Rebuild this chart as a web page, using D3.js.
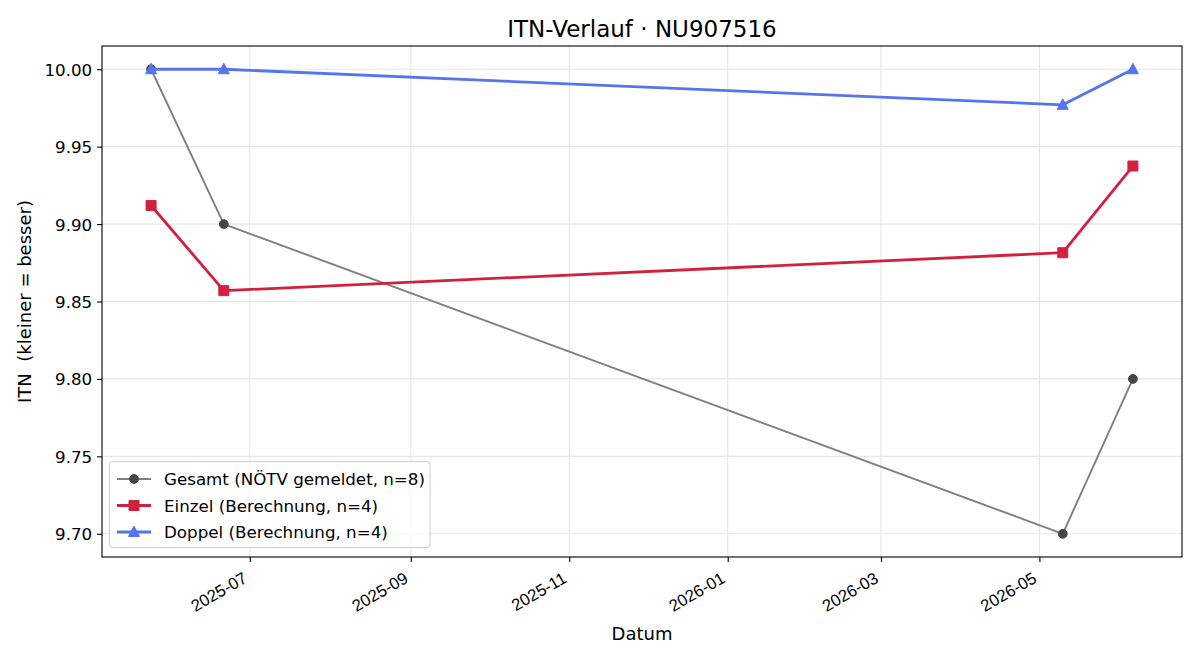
<!DOCTYPE html>
<html>
<head>
<meta charset="utf-8">
<script src="https://cdn.jsdelivr.net/npm/d3@7"></script>
<style>
  html, body { margin: 0; padding: 0; background: #fff; }
  svg { display: block; font-family: "DejaVu Sans", sans-serif; }
</style>
</head>
<body>
<svg id="chart" width="1200" height="660"></svg>
<script>
// ---- data ----
const titleText = "ITN-Verlauf · NU907516";
const xLabel = "Datum";
const yLabel = "ITN  (kleiner = besser)";

const gesamtDates = ["2025-05-24", "2025-06-21", "2026-05-10", "2026-06-06"];
const gesamtValues = [10.00, 9.90, 9.70, 9.80];

const einzelDates = ["2025-05-24", "2025-06-21", "2026-05-10", "2026-06-06"];
const einzelValues = [9.912, 9.857, 9.8815, 9.9375];

const doppelDates = ["2025-05-24", "2025-06-21", "2026-05-10", "2026-06-06"];
const doppelValues = [10.00, 10.00, 9.977, 10.00];

const yTicks = [9.70, 9.75, 9.80, 9.85, 9.90, 9.95, 10.00];

const seriesNames = ["Gesamt (NÖTV gemeldet, n=8)", "Einzel (Berechnung, n=4)", "Doppel (Berechnung, n=4)"];

// ---- build ----
const parse = d3.utcParse("%Y-%m-%d");
const toPoints = (dates, vals) => dates.map((d, i) => ({ date: parse(d), value: vals[i] }));
const series = [
  { name: seriesNames[0], pts: toPoints(gesamtDates, gesamtValues), line: "#7f7f7f", lw: 1.9, marker: "circle", mfill: "#454545", msize: 4.4 },
  { name: seriesNames[1], pts: toPoints(einzelDates, einzelValues), line: "#d2213f", lw: 2.8, marker: "square", mfill: "#d2213f", msize: 10 },
  { name: seriesNames[2], pts: toPoints(doppelDates, doppelValues), line: "#5575f0", lw: 2.8, marker: "triangle", mfill: "#5575f0", msize: 10 }
];

const TICK_FS = "16.7px", LEG_FS = "16.7px", LAB_FS = "18px", TITLE_FS = "23px";

const svg = d3.select("#chart");
const L = 102, R = 1182, T = 46, B = 557;

const allPts = series.flatMap(s => s.pts);
const xExt = d3.extent(allPts, d => d.date);
const xSpan = xExt[1] - xExt[0];
const x = d3.scaleUtc()
  .domain([new Date(+xExt[0] - 0.05 * xSpan), new Date(+xExt[1] + 0.05 * xSpan)])
  .range([L, R]);
const yExt = d3.extent(allPts, d => d.value);
const ySpan = yExt[1] - yExt[0];
const y = d3.scaleLinear()
  .domain([yExt[0] - 0.05 * ySpan, yExt[1] + 0.05 * ySpan])
  .range([B, T]);

const xTicks = x.ticks(d3.utcMonth.every(2));
const fmtX = d3.utcFormat("%Y-%m");

// grid
const grid = svg.append("g");
grid.selectAll(".gx").data(xTicks).join("line")
  .attr("x1", d => x(d)).attr("x2", d => x(d)).attr("y1", T).attr("y2", B)
  .attr("stroke", "#e6e6e6").attr("stroke-width", 1.1);
grid.selectAll(".gy").data(yTicks).join("line")
  .attr("x1", L).attr("x2", R).attr("y1", d => y(d)).attr("y2", d => y(d))
  .attr("stroke", "#e6e6e6").attr("stroke-width", 1.1);

// axes
const xAxis = svg.append("g").attr("transform", `translate(0,${B})`)
  .call(d3.axisBottom(x).tickValues(xTicks).tickSize(4.9).tickFormat(""));
xAxis.select(".domain").remove();
xAxis.selectAll(".tick line").attr("stroke", "#000").attr("stroke-width", 1.1);
xAxis.selectAll(".tick").append("text")
  .attr("transform", "translate(-2,24.5) rotate(-30)")
  .attr("text-anchor", "end")
  .attr("fill", "#000")
  .style("font-size", TICK_FS)
  .text(d => fmtX(d));

const yAxis = svg.append("g").attr("transform", `translate(${L},0)`)
  .call(d3.axisLeft(y).tickValues(yTicks).tickSize(4.9).tickPadding(4.9).tickFormat(d3.format(".2f")));
yAxis.select(".domain").remove();
yAxis.selectAll(".tick line").attr("stroke", "#000").attr("stroke-width", 1.1);
yAxis.selectAll(".tick text").style("font-size", TICK_FS).attr("fill", "#000")
  .attr("font-family", "DejaVu Sans").attr("dy", "0.36em");

// series
function markerPath(s) {
  if (s.marker === "circle") return d3.symbol(d3.symbolCircle, Math.PI * s.msize * s.msize)();
  if (s.marker === "square") return d3.symbol(d3.symbolSquare, s.msize * s.msize)();
  const h = s.msize;
  return `M0,${-h * 0.6}L${h * 0.55},${h * 0.45}L${-h * 0.55},${h * 0.45}Z`;
}
function drawMarkers(g, s, coords) {
  g.append("g").selectAll("path").data(coords).join("path")
    .attr("transform", d => `translate(${d[0]},${d[1]})`)
    .attr("d", markerPath(s))
    .attr("fill", s.mfill).attr("stroke", s.mfill).attr("stroke-width", 1);
}
series.forEach(s => {
  const line = d3.line().x(d => x(d.date)).y(d => y(d.value));
  svg.append("path").datum(s.pts)
    .attr("d", line).attr("fill", "none")
    .attr("stroke", s.line).attr("stroke-width", s.lw)
    .attr("stroke-linejoin", "round").attr("stroke-linecap", "butt");
  drawMarkers(svg, s, s.pts.map(d => [x(d.date), y(d.value)]));
});

// frame
svg.append("rect").attr("x", L).attr("y", T).attr("width", R - L).attr("height", B - T)
  .attr("fill", "none").attr("stroke", "#000").attr("stroke-width", 1.1);

// legend
const lg = svg.append("g");
lg.append("rect").attr("x", 109.5).attr("y", 461.5).attr("width", 320.5).attr("height", 86)
  .attr("rx", 3).attr("fill", "#fff").attr("fill-opacity", 0.8)
  .attr("stroke", "#cccccc").attr("stroke-width", 1);
const rowY = [479, 505.5, 532];
series.forEach((s, i) => {
  lg.append("line").attr("x1", 117).attr("x2", 151).attr("y1", rowY[i]).attr("y2", rowY[i])
    .attr("stroke", s.line).attr("stroke-width", s.lw);
  drawMarkers(lg, s, [[134, rowY[i]]]);
  lg.append("text").attr("x", 164).attr("y", rowY[i] + 6)
    .style("font-size", LEG_FS).attr("fill", "#000").text(s.name);
});

// title & labels
svg.append("text").attr("x", (L + R) / 2).attr("y", 37).attr("text-anchor", "middle")
  .style("font-size", TITLE_FS).attr("fill", "#000").text(titleText);
svg.append("text").attr("x", (L + R) / 2).attr("y", 640).attr("text-anchor", "middle")
  .style("font-size", LAB_FS).attr("fill", "#000").text(xLabel);
svg.append("text").attr("transform", `translate(31,${(T + B) / 2}) rotate(-90)`)
  .attr("text-anchor", "middle").style("white-space", "pre")
  .style("font-size", LAB_FS).attr("fill", "#000").text(yLabel);
</script>
</body>
</html>
